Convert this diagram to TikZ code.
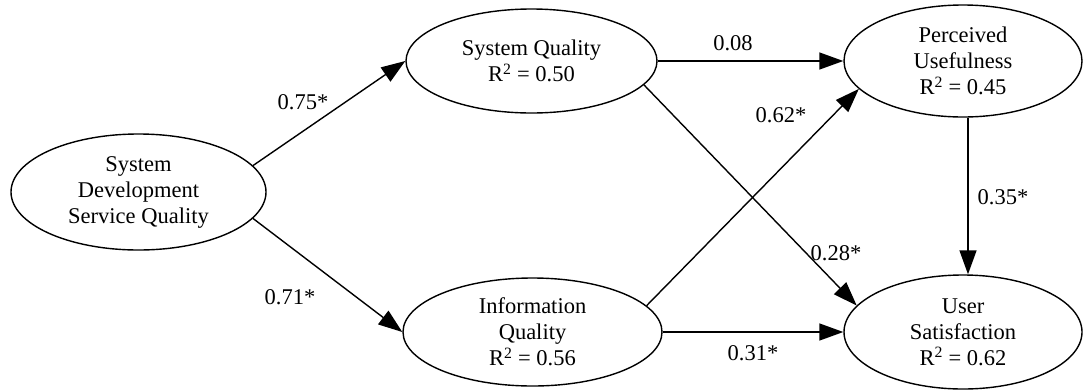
\documentclass[tikz,border=0pt]{standalone}
\usepackage{fontspec}
\setmainfont{Liberation Serif}
\usetikzlibrary{shapes.geometric,arrows.meta}

\tikzset{
  construct/.style={draw=black, line width=1.4pt, ellipse, inner sep=0pt,
    align=center, font=\fontsize{22.5pt}{26pt}\selectfont},
  path/.style={draw=black, line width=1.4pt, -{Triangle[length=24pt,width=17pt]}},
  coef/.style={font=\fontsize{22.5pt}{26pt}\selectfont, inner sep=0pt}
}

\begin{document}
\begin{tikzpicture}[x=1pt,y=1pt]
  \useasboundingbox (0,0) rectangle (1083,-389);

  % constructs of the structural model
  \node[construct, minimum width=255pt, minimum height=116pt] (sdsq) at (138.5,-192)
    {System\\Development\\Service Quality};
  \node[construct, minimum width=251pt, minimum height=104pt] (sq) at (531.5,-61)
    {System Quality\\R\textsuperscript{2} = 0.50};
  \node[construct, minimum width=259pt, minimum height=108pt] (iq) at (532.5,-332)
    {Information\\Quality\\R\textsuperscript{2} = 0.56};
  \node[construct, minimum width=238pt, minimum height=112pt] (pu) at (963,-61)
    {Perceived\\Usefulness\\R\textsuperscript{2} = 0.45};
  \node[construct, minimum width=238pt, minimum height=114pt] (us) at (963,-332)
    {User\\Satisfaction\\R\textsuperscript{2} = 0.62};

  % structural paths
  \draw[path] (sdsq.13) -- (sq.west);
  \draw[path] (sdsq.-13) -- (iq.west);
  \draw[path] (sq.east) -- (pu.west);
  \draw[path] (iq.east) -- (us.west);
  \draw[path] (sq.-12) -- (us.166.7);
  \draw[path] (iq.13.2) -- (pu.-165.7);
  \draw[path] ([xshift=5pt]pu.south) -- ([xshift=5pt]us.north);

  % path coefficients
  \node[coef] (c1) at (303,-102) {0.75*};
  \node[coef] (c2) at (290,-297) {0.71*};
  \node[coef] (c3) at (733,-43) {0.08};
  \node[coef] (c4) at (753,-353) {0.31*};
  \node[coef] (c5) at (781,-115) {0.62*};
  \node[coef] (c6) at (836,-253) {0.28*};
  \node[coef] (c7) at (1003,-197) {0.35*};
\end{tikzpicture}
\end{document}
